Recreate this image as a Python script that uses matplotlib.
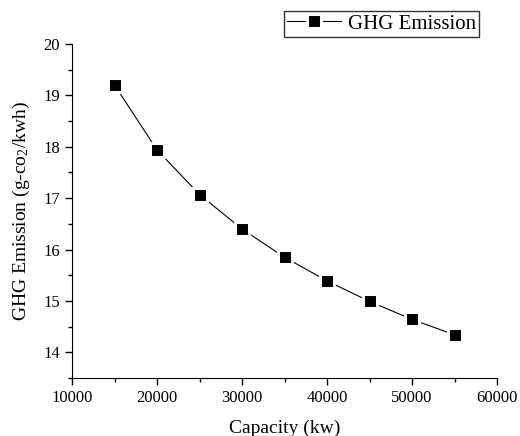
import matplotlib
matplotlib.use("Agg")
import matplotlib.pyplot as plt
from matplotlib.ticker import MultipleLocator

capacity = [15000, 20000, 25000, 30000, 35000, 40000, 45000, 50000, 55000]
ghg = [19.20, 17.94, 17.07, 16.40, 15.85, 15.39, 14.99, 14.64, 14.34]

plt.rcParams["font.family"] = ["Liberation Serif", "DejaVu Serif"]
plt.rcParams["mathtext.fontset"] = "custom"
plt.rcParams["mathtext.rm"] = "Liberation Serif"
plt.rcParams["mathtext.it"] = "Liberation Serif:italic"

fig = plt.figure(figsize=(5.2, 4.36), dpi=100)
ax = fig.add_axes([0.1385, 0.133, 0.8175, 0.766])

ax.plot(capacity, ghg, color="black", linewidth=0.8, marker="s", markersize=9.5,
        markerfacecolor="black", markeredgecolor="white", markeredgewidth=2.2,
        label="GHG Emission")

ax.set_xlim(10000, 60000)
ax.set_ylim(13.5, 20)
ax.xaxis.set_major_locator(MultipleLocator(10000))
ax.xaxis.set_minor_locator(MultipleLocator(5000))
ax.yaxis.set_major_locator(MultipleLocator(1))
ax.yaxis.set_minor_locator(MultipleLocator(0.5))
ax.spines["top"].set_visible(False)
ax.spines["right"].set_visible(False)
ax.tick_params(which="major", direction="out", length=5, width=1, labelsize=12)
ax.tick_params(which="minor", direction="out", length=3, width=1)

ax.set_xlabel("Capacity (kw)", fontsize=14, labelpad=10)
ax.set_ylabel("GHG Emission (g-co$_2$/kwh)", fontsize=14, labelpad=8)

leg = fig.legend(loc="upper right", bbox_to_anchor=(0.921, 0.975), fontsize=15,
                 frameon=True, fancybox=False, handlelength=2.6,
                 borderpad=0.15, handletextpad=0.3, borderaxespad=0)
leg.get_frame().set_edgecolor("black")
leg.get_frame().set_linewidth(1)

fig.savefig("out.png", dpi=100)
